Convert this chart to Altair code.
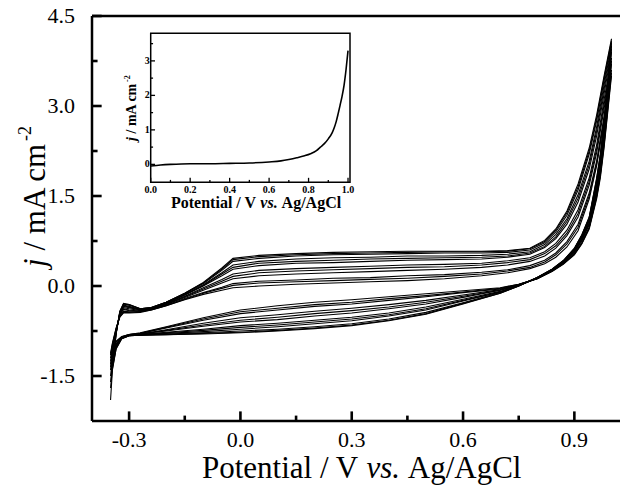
import altair as alt
import pandas as pd

FONT = "Liberation Serif"
TICK_COLOR = "black"

# ---------------- main CV data (12 representative cycles) ----------------
E_AN = [-0.35, -0.345, -0.335, -0.325, -0.315, -0.30, -0.27, -0.24, -0.20, -0.15,
        -0.10, -0.05, -0.02, 0.05, 0.15, 0.25, 0.35, 0.45, 0.55, 0.65,
        0.72, 0.78, 0.82, 0.85, 0.88, 0.91, 0.94, 0.96, 0.98, 1.00]
A1 = [-1.12, -0.95, -0.70, -0.52, -0.45, -0.45, -0.44, -0.40, -0.33, -0.23, -0.14, -0.07, -0.03, 0.00, 0.03, 0.05, 0.07, 0.09, 0.12, 0.17, 0.22, 0.29, 0.37, 0.48, 0.65, 0.92, 1.45, 2.00, 2.75, 3.50]
A2 = [-1.20, -1.00, -0.72, -0.50, -0.42, -0.43, -0.43, -0.39, -0.32, -0.21, -0.11, -0.02, 0.04, 0.08, 0.10, 0.13, 0.14, 0.17, 0.19, 0.23, 0.27, 0.34, 0.43, 0.55, 0.74, 1.03, 1.55, 2.08, 2.82, 3.60]
A3 = [-1.30, -1.05, -0.74, -0.48, -0.39, -0.41, -0.42, -0.38, -0.31, -0.19, -0.07, 0.05, 0.12, 0.17, 0.20, 0.22, 0.24, 0.26, 0.28, 0.31, 0.35, 0.41, 0.50, 0.63, 0.84, 1.15, 1.68, 2.22, 2.95, 3.70]
A4 = [-1.40, -1.10, -0.76, -0.47, -0.36, -0.38, -0.41, -0.38, -0.30, -0.17, -0.03, 0.11, 0.20, 0.26, 0.29, 0.31, 0.33, 0.35, 0.36, 0.38, 0.42, 0.47, 0.57, 0.71, 0.93, 1.27, 1.80, 2.35, 3.10, 3.80]
A5 = [-1.15, -1.00, -0.75, -0.46, -0.34, -0.36, -0.40, -0.37, -0.29, -0.15, 0.00, 0.17, 0.28, 0.34, 0.38, 0.39, 0.41, 0.43, 0.44, 0.45, 0.48, 0.53, 0.64, 0.79, 1.03, 1.40, 1.95, 2.50, 3.20, 3.90]
A6 = [-1.50, -1.20, -0.78, -0.45, -0.32, -0.34, -0.39, -0.37, -0.28, -0.14, 0.02, 0.22, 0.35, 0.41, 0.45, 0.47, 0.48, 0.50, 0.50, 0.51, 0.53, 0.57, 0.69, 0.86, 1.12, 1.52, 2.08, 2.65, 3.35, 4.00]
A7 = [-1.60, -1.30, -0.79, -0.43, -0.30, -0.32, -0.38, -0.36, -0.27, -0.13, 0.04, 0.26, 0.41, 0.46, 0.50, 0.52, 0.53, 0.54, 0.55, 0.55, 0.56, 0.60, 0.72, 0.90, 1.18, 1.60, 2.20, 2.75, 3.42, 4.05]
A8 = [-1.90, -1.40, -0.80, -0.42, -0.29, -0.31, -0.38, -0.36, -0.27, -0.12, 0.06, 0.30, 0.46, 0.51, 0.54, 0.56, 0.57, 0.58, 0.58, 0.58, 0.59, 0.63, 0.76, 0.95, 1.25, 1.70, 2.30, 2.85, 3.50, 4.12]
A9 = [-1.15, -0.97, -0.71, -0.51, -0.44, -0.44, -0.43, -0.40, -0.33, -0.22, -0.12, -0.04, 0.01, 0.05, 0.07, 0.09, 0.11, 0.13, 0.16, 0.20, 0.25, 0.31, 0.40, 0.52, 0.70, 0.98, 1.50, 2.04, 2.78, 3.55]
A10 = [-1.25, -1.07, -0.75, -0.48, -0.38, -0.40, -0.42, -0.38, -0.31, -0.18, -0.05, 0.08, 0.16, 0.22, 0.25, 0.27, 0.29, 0.31, 0.32, 0.35, 0.39, 0.44, 0.54, 0.67, 0.88, 1.21, 1.74, 2.28, 3.02, 3.75]
A11 = [-1.35, -1.10, -0.77, -0.46, -0.33, -0.35, -0.40, -0.37, -0.29, -0.15, 0.01, 0.20, 0.31, 0.38, 0.41, 0.43, 0.45, 0.46, 0.47, 0.48, 0.50, 0.55, 0.66, 0.82, 1.08, 1.46, 2.02, 2.58, 3.28, 3.95]
A12 = [-1.70, -1.35, -0.80, -0.43, -0.30, -0.31, -0.38, -0.36, -0.27, -0.12, 0.05, 0.28, 0.44, 0.49, 0.52, 0.54, 0.55, 0.56, 0.57, 0.57, 0.58, 0.62, 0.74, 0.93, 1.22, 1.65, 2.25, 2.80, 3.46, 4.08]

E_CA = [0.99, 0.98, 0.97, 0.96, 0.94, 0.92, 0.90, 0.87, 0.84, 0.80, 0.75, 0.70, 0.60,
        0.50, 0.40, 0.30, 0.20, 0.10, 0.00, -0.10, -0.20, -0.27, -0.30, -0.32, -0.335, -0.345]
C1 = [2.90, 2.30, 1.80, 1.45, 0.95, 0.70, 0.52, 0.36, 0.24, 0.12, 0.03, -0.03, -0.08, -0.13, -0.18, -0.23, -0.27, -0.33, -0.40, -0.53, -0.68, -0.78, -0.81, -0.84, -0.92, -1.02]
C2 = [2.98, 2.38, 1.87, 1.50, 0.98, 0.72, 0.54, 0.37, 0.25, 0.12, 0.02, -0.05, -0.11, -0.18, -0.24, -0.30, -0.34, -0.40, -0.46, -0.57, -0.70, -0.79, -0.81, -0.85, -0.94, -1.06]
C3 = [3.05, 2.45, 1.93, 1.55, 1.02, 0.75, 0.56, 0.38, 0.26, 0.13, 0.02, -0.06, -0.15, -0.24, -0.31, -0.37, -0.42, -0.48, -0.53, -0.62, -0.73, -0.80, -0.82, -0.86, -0.97, -1.12]
C4 = [3.12, 2.52, 2.00, 1.60, 1.05, 0.78, 0.58, 0.39, 0.26, 0.13, 0.01, -0.07, -0.19, -0.30, -0.38, -0.45, -0.50, -0.56, -0.60, -0.67, -0.75, -0.80, -0.82, -0.86, -0.99, -1.20]
C5 = [3.20, 2.58, 2.05, 1.66, 1.08, 0.80, 0.60, 0.40, 0.27, 0.13, 0.01, -0.09, -0.22, -0.35, -0.45, -0.52, -0.57, -0.62, -0.66, -0.72, -0.77, -0.81, -0.82, -0.86, -0.97, -1.05]
C6 = [3.26, 2.64, 2.10, 1.70, 1.11, 0.82, 0.61, 0.41, 0.27, 0.14, 0.01, -0.10, -0.25, -0.40, -0.50, -0.58, -0.63, -0.68, -0.72, -0.76, -0.79, -0.81, -0.83, -0.87, -1.00, -1.30]
C7 = [3.33, 2.70, 2.15, 1.75, 1.13, 0.84, 0.62, 0.42, 0.28, 0.14, 0.00, -0.11, -0.28, -0.44, -0.55, -0.63, -0.68, -0.72, -0.75, -0.78, -0.80, -0.82, -0.83, -0.87, -1.02, -1.35]
C8 = [3.40, 2.75, 2.20, 1.80, 1.15, 0.85, 0.63, 0.42, 0.28, 0.14, 0.00, -0.12, -0.30, -0.47, -0.58, -0.66, -0.71, -0.75, -0.78, -0.80, -0.81, -0.82, -0.83, -0.88, -1.05, -1.40]
C9 = [2.94, 2.34, 1.84, 1.48, 0.97, 0.71, 0.53, 0.37, 0.25, 0.12, 0.03, -0.04, -0.10, -0.16, -0.21, -0.27, -0.31, -0.37, -0.43, -0.55, -0.69, -0.79, -0.81, -0.85, -0.93, -1.04]
C10 = [3.08, 2.48, 1.96, 1.58, 1.04, 0.77, 0.57, 0.39, 0.26, 0.13, 0.02, -0.07, -0.17, -0.27, -0.35, -0.41, -0.46, -0.52, -0.57, -0.65, -0.74, -0.80, -0.82, -0.86, -0.98, -1.16]
C11 = [3.23, 2.61, 2.08, 1.68, 1.10, 0.81, 0.60, 0.40, 0.27, 0.13, 0.01, -0.10, -0.24, -0.38, -0.48, -0.55, -0.60, -0.65, -0.69, -0.74, -0.78, -0.81, -0.82, -0.87, -0.99, -1.20]
C12 = [3.37, 2.72, 2.18, 1.78, 1.14, 0.85, 0.62, 0.42, 0.28, 0.14, 0.00, -0.12, -0.29, -0.46, -0.57, -0.65, -0.70, -0.74, -0.77, -0.79, -0.81, -0.82, -0.83, -0.88, -1.04, -1.38]

# ---------------- inset data ----------------
E_INSET = [0.0, 0.05, 0.1, 0.2, 0.3, 0.4, 0.5, 0.6, 0.66, 0.7, 0.74, 0.78, 0.81,
           0.84, 0.86, 0.88, 0.9, 0.92, 0.93, 0.94, 0.95, 0.96, 0.97, 0.98, 0.99, 1.0]
J_INSET = [-0.05, -0.02, 0.0, 0.02, 0.02, 0.03, 0.04, 0.07, 0.1, 0.14, 0.19, 0.25, 0.31,
           0.4, 0.5, 0.6, 0.74, 0.92, 1.06, 1.24, 1.47, 1.72, 1.98, 2.3, 2.75, 3.3]

# ---------------- ticks & labels ----------------
X_MAJOR = [-0.3, 0.0, 0.3, 0.6, 0.9]
X_LABELS = ["-0.3", "0.0", "0.3", "0.6", "0.9"]
X_MINOR = [-0.15, 0.15, 0.45, 0.75]
Y_MAJOR = [-1.5, 0.0, 1.5, 3.0, 4.5]
Y_LABELS = ["-1.5", "0.0", "1.5", "3.0", "4.5"]
Y_MINOR = [-0.75, 0.75, 2.25, 3.75]
IX_MAJOR = [0.0, 0.2, 0.4, 0.6, 0.8, 1.0]
IX_LABELS = ["0.0", "0.2", "0.4", "0.6", "0.8", "1.0"]
IX_MINOR = [0.1, 0.3, 0.5, 0.7, 0.9]
IY_MAJOR = [0, 1, 2, 3]
IY_LABELS = ["0", "1", "2", "3"]
IY_MINOR = [0.5, 1.5, 2.5, 3.5]

# ---------------- layout ----------------
W, H = 528, 405
X_DOM = [-0.4, 1.023]
Y_DOM = [-2.25, 4.5]
IX_DOM = [0.0, 1.01]
IY_DOM = [-0.52, 3.8]
IX_RANGE = [58.7, 258.0]
IY_RANGE = [166.3, 17.3]
XT_MAJ, XT_MIN = 0.16, 0.09       # main x ticks (y units)
YT_MAJ, YT_MIN = 0.026, 0.015     # main y ticks (x units)
IXT_MAJ, IXT_MIN = 0.13, 0.07     # inset x ticks (inset y units)
IYT_MAJ, IYT_MIN = 0.022, 0.012   # inset y ticks (inset x units)

ANODIC = [A1, A9, A2, A3, A10, A4, A5, A11, A6, A7, A12, A8]
CATHODIC = [C1, C9, C2, C3, C10, C4, C5, C11, C6, C7, C12, C8]

rows = []
for k, (a, c) in enumerate(zip(ANODIC, CATHODIC), start=1):
    pts = list(zip(E_AN, a)) + list(zip(E_CA, c)) + [(E_AN[0], a[0])]
    for i, (e, j) in enumerate(pts):
        rows.append({"cycle": k, "idx": i, "E": e, "j": j})
df = pd.DataFrame(rows)


def MX(field="E"):
    return alt.X(field, type="quantitative",
                 scale=alt.Scale(domain=X_DOM, nice=False, zero=False), axis=None)


def MY(field="j"):
    return alt.Y(field, type="quantitative",
                 scale=alt.Scale(domain=Y_DOM, nice=False, zero=False), axis=None)


def IX(field="E"):
    return alt.X(field, type="quantitative",
                 scale=alt.Scale(domain=IX_DOM, range=IX_RANGE, nice=False, zero=False), axis=None)


def IY(field="j"):
    return alt.Y(field, type="quantitative",
                 scale=alt.Scale(domain=IY_DOM, range=IY_RANGE, nice=False, zero=False), axis=None)


def vticks(values, xf, yf, y0, length, width):
    d = pd.DataFrame({"E": values, "j": [y0] * len(values), "j2": [y0 + length] * len(values)})
    return alt.Chart(d).mark_rule(color=TICK_COLOR, strokeWidth=width).encode(
        x=xf(), y=yf(), y2="j2:Q")


def hticks(values, xf, yf, x0, length, width):
    d = pd.DataFrame({"j": values, "E": [x0] * len(values), "E2": [x0 + length] * len(values)})
    return alt.Chart(d).mark_rule(color=TICK_COLOR, strokeWidth=width).encode(
        y=yf(), x=xf(), x2="E2:Q")


def txt(s, x, y, size, italic=False, bold=False, angle=0):
    return alt.Chart(pd.DataFrame({"t": [s]})).mark_text(
        font=FONT, fontSize=size, align="left", baseline="alphabetic", color="black",
        fontStyle="italic" if italic else "normal",
        fontWeight="bold" if bold else "normal", angle=angle).encode(
        x=alt.value(x), y=alt.value(y), text="t:N")


# ---------------- main panel ----------------
lines = alt.Chart(df).mark_line(color="black", strokeWidth=1.1, clip=True).encode(
    x=MX(), y=MY(), detail="cycle:N", order=alt.Order("idx:Q"))

frame = alt.Chart(pd.DataFrame({"E": [X_DOM[0]], "E2": [X_DOM[1]],
                                "j": [Y_DOM[0]], "j2": [Y_DOM[1]]}))
left_line = frame.mark_rule(color="black", strokeWidth=2.5).encode(x=MX(), y=MY(), y2="j2:Q")
bottom_line = frame.mark_rule(color="black", strokeWidth=2.5).encode(x=MX(), x2="E2:Q", y=MY())
top_line = frame.mark_rule(color="black", strokeWidth=2.5).encode(x=MX(), x2="E2:Q", y=MY("j2"))

xt_major = vticks(X_MAJOR, MX, MY, Y_DOM[0], XT_MAJ, 2.6)
xt_minor = vticks(X_MINOR, MX, MY, Y_DOM[0], XT_MIN, 2.6)
yt_major = hticks(Y_MAJOR, MX, MY, X_DOM[0], YT_MAJ, 2.6)
yt_minor = hticks(Y_MINOR, MX, MY, X_DOM[0], YT_MIN, 2.6)

x_labels = alt.Chart(pd.DataFrame({"E": X_MAJOR, "t": X_LABELS})).mark_text(
    font=FONT, fontSize=22, baseline="alphabetic", align="center", color="black").encode(
    x=MX(), y=alt.value(H + 26), text="t:N")
y_labels = alt.Chart(pd.DataFrame({"j": Y_MAJOR, "t": Y_LABELS})).mark_text(
    font=FONT, fontSize=22, baseline="middle", align="right", color="black").encode(
    y=MY(), x=alt.value(-17), text="t:N")

x_title = [
    txt("Potential / V", 110, 462, 31),
    txt("vs.", 274.5, 462, 31, italic=True),
    txt("Ag/AgCl", 315.8, 462, 31),
]
y_title = [
    txt("j", -47, 251, 31, italic=True, angle=270),
    txt("/ mA cm", -47, 234.6, 31, angle=270),
    txt("-2", -61, 125, 18, angle=270),
]

# ---------------- inset ----------------
inset_df = pd.DataFrame({"E": E_INSET, "j": J_INSET})
inset_line = alt.Chart(inset_df).mark_line(color="black", strokeWidth=1.6,
                                           interpolate="monotone").encode(x=IX(), y=IY())
inset_frame = alt.Chart(pd.DataFrame({"E": [IX_DOM[0]], "E2": [IX_DOM[1]],
                                      "j": [IY_DOM[0]], "j2": [IY_DOM[1]]})).mark_rect(
    filled=False, stroke="black", strokeWidth=1.5).encode(
    x=IX(), x2="E2:Q", y=IY(), y2="j2:Q")
ixt_major = vticks(IX_MAJOR, IX, IY, IY_DOM[0], IXT_MAJ, 1.3)
ixt_minor = vticks(IX_MINOR, IX, IY, IY_DOM[0], IXT_MIN, 1.3)
iyt_major = hticks(IY_MAJOR, IX, IY, IX_DOM[0], IYT_MAJ, 1.3)
iyt_minor = hticks(IY_MINOR, IX, IY, IX_DOM[0], IYT_MIN, 1.3)
ix_labels = alt.Chart(pd.DataFrame({"E": IX_MAJOR, "t": IX_LABELS})).mark_text(
    font=FONT, fontSize=10, fontWeight="bold", baseline="top", align="center", color="black").encode(
    x=IX(), y=alt.value(IY_RANGE[0] + 3), text="t:N")
iy_labels = alt.Chart(pd.DataFrame({"j": IY_MAJOR, "t": IY_LABELS})).mark_text(
    font=FONT, fontSize=10, fontWeight="bold", baseline="middle", align="right", color="black").encode(
    y=IY(), x=alt.value(IX_RANGE[0] - 1), text="t:N")
ix_title = [
    txt("Potential / V", 79, 192, 16, bold=True),
    txt("vs.", 168.3, 192, 16, bold=True, italic=True),
    txt("Ag/AgCl", 189.6, 192, 16, bold=True),
]
iy_title = [
    txt("j", 44, 125, 14, bold=True, italic=True, angle=270),
    txt("/ mA cm", 44, 117.5, 14, bold=True, angle=270),
    txt("-2", 38, 66, 8, bold=True, angle=270),
]

chart = alt.layer(
    lines, left_line, bottom_line, top_line, xt_major, xt_minor, yt_major, yt_minor,
    x_labels, y_labels,
    inset_line, inset_frame, ixt_major, ixt_minor, iyt_major, iyt_minor,
    ix_labels, iy_labels,
    *x_title, *y_title, *ix_title, *iy_title,
).resolve_scale(x="independent", y="independent").properties(
    width=W, height=H,
    padding={"left": 84, "top": 8, "right": 0, "bottom": 65},
    autosize=alt.AutoSizeParams(type="none"),
    background="white",
).configure_view(stroke=None)

chart.save("out.html", embed_options={"renderer": "svg", "actions": False})
